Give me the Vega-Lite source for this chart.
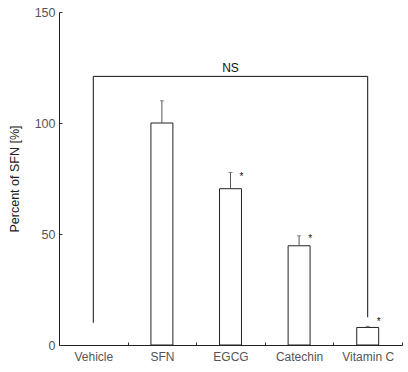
{
  "$schema": "https://vega.github.io/schema/vega-lite/v6.json",
  "width": 343,
  "height": 333,
  "autosize": {"type": "none"},
  "padding": {"left": 59, "top": 12, "right": 6, "bottom": 27},
  "background": "white",
  "config": {
    "view": {"stroke": null},
    "font": "Liberation Sans"
  },
  "datasets": {
    "bars": [
      {"group": "Vehicle", "value": 0, "upper": 0, "star": "", "stary": 0},
      {"group": "SFN", "value": 100, "upper": 110, "star": "", "stary": 110},
      {"group": "EGCG", "value": 70.4, "upper": 77.7, "star": "*", "stary": 77.2},
      {"group": "Catechin", "value": 44.7, "upper": 49.2, "star": "*", "stary": 48.9},
      {"group": "Vitamin C", "value": 7.9, "upper": 8.4, "star": "*", "stary": 11.5}
    ],
    "bracket": [
      {"group": "Vehicle", "y": 10, "order": 1},
      {"group": "Vehicle", "y": 121, "order": 2},
      {"group": "Vitamin C", "y": 121, "order": 3},
      {"group": "Vitamin C", "y": 12.5, "order": 4}
    ],
    "label": [
      {"y": 124.8, "text": "NS"}
    ]
  },
  "layer": [
    {
      "data": {"name": "bars"},
      "transform": [{"filter": "datum.value > 0"}],
      "mark": {"type": "bar", "width": {"band": 0.32}, "fill": "white", "stroke": "#222", "strokeWidth": 1},
      "encoding": {
        "x": {
          "field": "group", "type": "nominal", "sort": ["Vehicle", "SFN", "EGCG", "Catechin", "Vitamin C"],
          "scale": {"domain": ["Vehicle", "SFN", "EGCG", "Catechin", "Vitamin C"], "paddingInner": 0, "paddingOuter": 0},
          "axis": {
            "title": null, "labelAngle": 0, "labelFontSize": 12, "labelColor": "#555",
            "labelPadding": 9, "tickBand": "extent", "tickSize": -3, "tickColor": "#333",
            "domainColor": "#222", "labelFont": "Liberation Sans"
          }
        },
        "y": {
          "field": "value", "type": "quantitative",
          "scale": {"domain": [0, 150], "nice": false},
          "axis": {
            "title": "Percent of SFN [%]", "values": [0, 50, 100, 150], "grid": false,
            "labelFontSize": 12.5, "labelColor": "#555", "tickSize": -3, "tickColor": "#333",
            "domainColor": "#222", "labelPadding": 7, "titleFontSize": 12.5, "titleFontWeight": "normal",
            "titleColor": "#222", "titlePadding": 13
          }
        }
      }
    },
    {
      "data": {"name": "bars"},
      "transform": [{"filter": "datum.upper > 0"}],
      "mark": {"type": "rule", "color": "#555", "strokeWidth": 1},
      "encoding": {
        "x": {"field": "group", "type": "nominal", "sort": ["Vehicle", "SFN", "EGCG", "Catechin", "Vitamin C"]},
        "y": {"field": "value", "type": "quantitative"},
        "y2": {"field": "upper"}
      }
    },
    {
      "data": {"name": "bars"},
      "transform": [{"filter": "datum.upper > 0"}],
      "mark": {"type": "tick", "orient": "horizontal", "color": "#555", "size": 4, "thickness": 1},
      "encoding": {
        "x": {"field": "group", "type": "nominal", "sort": ["Vehicle", "SFN", "EGCG", "Catechin", "Vitamin C"]},
        "y": {"field": "upper", "type": "quantitative"}
      }
    },
    {
      "data": {"name": "bars"},
      "transform": [{"filter": "datum.star != ''"}],
      "mark": {"type": "text", "dx": 11, "dy": 3, "fontSize": 10, "color": "#111"},
      "encoding": {
        "x": {"field": "group", "type": "nominal", "sort": ["Vehicle", "SFN", "EGCG", "Catechin", "Vitamin C"]},
        "y": {"field": "stary", "type": "quantitative"},
        "text": {"field": "star"}
      }
    },
    {
      "data": {"name": "bracket"},
      "mark": {"type": "line", "color": "#111", "strokeWidth": 1},
      "encoding": {
        "x": {"field": "group", "type": "nominal", "sort": ["Vehicle", "SFN", "EGCG", "Catechin", "Vitamin C"]},
        "y": {"field": "y", "type": "quantitative"},
        "order": {"field": "order"}
      }
    },
    {
      "data": {"name": "label"},
      "mark": {"type": "text", "fontSize": 12, "color": "#111", "baseline": "middle"},
      "encoding": {
        "x": {"datum": "EGCG", "type": "nominal"},
        "y": {"field": "y", "type": "quantitative"},
        "text": {"field": "text"}
      }
    }
  ]
}
